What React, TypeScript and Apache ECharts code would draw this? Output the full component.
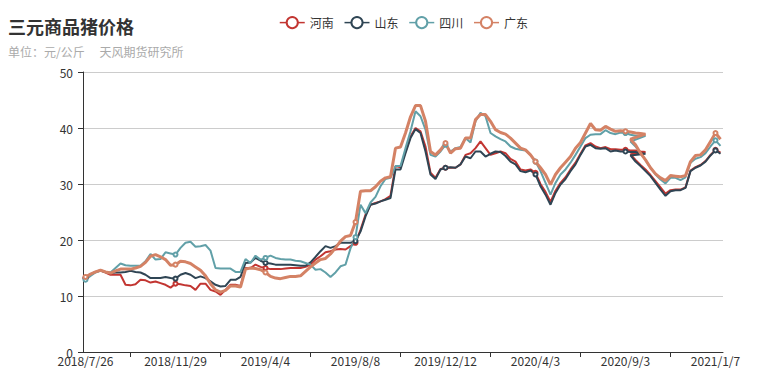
import React, { useEffect, useRef } from "react";
import * as echarts from "echarts";

// weekly report dates (x categories)
const dates = [
  "2018/7/26", "2018/8/2", "2018/8/9", "2018/8/16", "2018/8/23", "2018/8/30", "2018/9/6", "2018/9/13", "2018/9/20", "2018/9/27",
  "2018/10/4", "2018/10/11", "2018/10/18", "2018/10/25", "2018/11/1", "2018/11/8", "2018/11/15", "2018/11/22", "2018/11/29", "2018/12/6",
  "2018/12/13", "2018/12/20", "2018/12/27", "2019/1/3", "2019/1/10", "2019/1/17", "2019/1/24", "2019/1/31", "2019/2/7", "2019/2/14",
  "2019/2/21", "2019/2/28", "2019/3/7", "2019/3/14", "2019/3/21", "2019/3/28", "2019/4/4", "2019/4/11", "2019/4/18", "2019/4/25",
  "2019/5/2", "2019/5/9", "2019/5/16", "2019/5/23", "2019/5/30", "2019/6/6", "2019/6/13", "2019/6/20", "2019/6/27", "2019/7/4",
  "2019/7/11", "2019/7/18", "2019/7/25", "2019/8/1", "2019/8/8", "2019/8/15", "2019/8/22", "2019/8/29", "2019/9/5", "2019/9/12",
  "2019/9/19", "2019/9/26", "2019/10/3", "2019/10/10", "2019/10/17", "2019/10/24", "2019/10/31", "2019/11/7", "2019/11/14", "2019/11/21",
  "2019/11/28", "2019/12/5", "2019/12/12", "2019/12/19", "2019/12/26", "2020/1/2", "2020/1/9", "2020/1/16", "2020/1/23", "2020/1/30",
  "2020/2/6", "2020/2/13", "2020/2/20", "2020/2/27", "2020/3/5", "2020/3/12", "2020/3/19", "2020/3/20", "2020/3/26", "2020/3/27",
  "2020/4/3", "2020/4/10", "2020/4/17", "2020/4/24", "2020/5/8", "2020/5/15", "2020/5/22", "2020/5/29", "2020/6/5", "2020/6/12",
  "2020/6/19", "2020/7/3", "2020/7/10", "2020/7/17", "2020/7/31", "2020/8/7", "2020/8/21", "2020/8/27", "2020/9/3", "2020/9/10",
  "2020/9/17", "2020/9/24", "2020/10/1", "2020/10/8", "2020/10/15", "2020/10/22", "2020/10/29", "2020/11/5", "2020/11/12", "2020/11/19",
  "2020/11/26", "2020/12/3", "2020/12/10", "2020/12/17", "2020/12/24", "2020/12/31", "2021/1/7", "2021/1/14",
];

// first data batch runs up to this date, second batch restarts at this date
const firstBatchEnd = "2020/10/1";
const secondBatchStart = "2020/9/10";

const names = ["河南", "山东", "四川", "广东"];

// 河南
const henanFirst = [
  13.2, 13.8, 14.3, 14.6, 14.2, 13.8, 13.8, 13.8, 12.0, 11.9,
  12.1, 12.9, 12.8, 12.4, 12.6, 12.3, 12.0, 11.5, 12.2, 12.1,
  11.9, 11.8, 11.1, 12.2, 12.2, 11.1, 10.8, 10.2, 11.1, 12.0,
  12.0, 11.8, 15.0, 15.0, 15.6, 15.2, 15.0, 14.8, 14.8, 14.8,
  14.9, 15.0, 15.0, 15.0, 15.2, 15.6, 16.5, 17.1, 17.8, 18.0,
  18.3, 18.4, 18.3, 18.9, 19.5, 21.8, 24.5, 26.3, 26.6, 26.9,
  27.3, 27.9, 33.2, 33.0, 35.8, 38.5, 40.0, 39.4, 36.7, 32.0,
  31.1, 32.7, 32.9, 32.9, 32.9, 33.5, 35.2, 35.5, 36.4, 37.6,
  36.4, 35.2, 35.5, 35.8, 35.5, 34.5, 34.0, 32.6, 32.4, 32.6,
  32.0, 30.0, 28.6, 26.8, 28.8, 30.2, 31.2, 32.6, 33.8, 35.4,
  36.9, 37.3, 36.7, 36.4, 36.6, 36.2, 36.2, 36.1, 36.1, 36.0,
  36.0, 35.8, 35.7,
];
const henanSecond = [35.3, 34.3, 33.4, 32.6, 31.6, 30.5, 29.4, 28.3, 28.9, 29.0, 29.0, 29.4, 32.4, 33.0, 33.4, 34.1, 35.2, 36.1, 35.6];

// 山东
const shandongFirst = [
  13.2, 13.8, 14.3, 14.5, 14.3, 14.1, 14.2, 14.2, 14.3, 14.5,
  14.3, 14.2, 13.8, 13.2, 13.2, 13.2, 13.4, 13.2, 13.1, 13.8,
  14.1, 13.8, 13.2, 13.5, 13.2, 12.6, 12.0, 11.7, 11.8, 12.9,
  12.9, 13.4, 15.9, 16.0, 16.8, 16.3, 15.9, 15.8, 15.6, 15.6,
  15.6, 15.6, 15.5, 15.4, 15.4, 16.0, 17.0, 18.0, 18.9, 18.6,
  18.9, 19.5, 19.5, 19.5, 19.8, 21.5, 24.2, 26.3, 26.5, 26.9,
  27.2, 27.5, 32.6, 32.6, 35.5, 38.2, 39.8, 39.1, 35.8, 31.7,
  30.9, 32.6, 32.9, 33.0, 32.9, 33.5, 34.9, 34.6, 35.8, 35.8,
  34.9, 35.4, 35.8, 35.7, 35.0, 34.0, 33.5, 32.3, 32.1, 32.4,
  31.7, 29.6, 28.1, 26.3, 28.4, 29.9, 30.9, 32.3, 33.5, 35.2,
  36.7, 37.0, 36.4, 36.3, 36.4, 35.8, 36.0, 35.8, 35.8, 35.7,
  35.7, 35.5, 35.4,
];
const shandongSecond = [35.1, 34.0, 33.2, 32.3, 31.4, 30.2, 29.0, 27.9, 28.7, 28.9, 28.9, 29.3, 32.3, 32.9, 33.3, 34.0, 35.1, 36.0, 35.4];

// 四川
const sichuanFirst = [
  12.9, 13.6, 14.2, 14.6, 14.3, 14.2, 15.0, 15.8, 15.5, 15.4,
  15.4, 15.4, 16.2, 17.5, 16.5, 16.6, 17.8, 17.6, 17.4, 18.6,
  19.5, 19.7, 18.8, 18.9, 19.1, 18.1, 15.0, 14.9, 14.9, 14.9,
  14.3, 14.3, 16.6, 15.9, 17.2, 16.5, 16.8, 17.2, 16.8, 16.6,
  16.5, 16.5, 16.3, 16.2, 15.9, 15.6, 14.7, 14.8, 14.2, 13.4,
  14.2, 15.3, 15.6, 18.5, 20.5, 26.3, 24.8, 26.7, 27.7, 29.6,
  30.9, 31.1, 33.2, 33.2, 36.4, 39.4, 43.0, 42.1, 39.7, 35.2,
  34.9, 35.8, 37.0, 35.8, 36.4, 36.6, 38.2, 37.4, 41.2, 42.7,
  42.1, 39.1, 38.5, 38.0, 37.6, 36.7, 36.3, 36.1, 36.0, 35.2,
  34.0, 32.3, 30.2, 28.1, 30.2, 31.7, 32.6, 33.8, 35.2, 36.7,
  38.2, 38.8, 38.9, 38.9, 39.6, 39.1, 38.9, 39.2, 39.1, 38.8,
  38.6, 38.6, 38.6,
];
const sichuanSecond = [37.6, 36.7, 35.5, 34.3, 32.9, 31.7, 30.8, 30.1, 31.1, 31.1, 30.7, 31.2, 33.8, 34.5, 34.8, 35.5, 36.7, 37.8, 36.8];

// 广东
const guangdongFirst = [
  13.4, 13.9, 14.3, 14.6, 14.3, 14.1, 14.5, 14.8, 14.8, 14.8,
  15.0, 15.3, 16.0, 17.1, 17.4, 17.0, 16.5, 15.5, 15.6, 16.2,
  16.1, 15.8, 15.2, 14.6, 13.6, 12.2, 11.1, 10.7, 11.0, 11.8,
  11.8, 11.6, 14.8, 15.0, 14.9, 14.7, 14.2, 13.5, 13.2, 13.1,
  13.3, 13.5, 13.5, 13.6, 14.4, 15.2, 15.9, 16.5, 16.7, 17.5,
  18.6, 19.8, 20.6, 20.8, 23.2, 28.7, 28.8, 28.8, 29.5, 30.5,
  31.1, 31.3, 36.4, 36.6, 39.1, 42.0, 44.0, 44.0, 41.2, 35.8,
  35.2, 36.1, 37.3, 35.5, 36.3, 36.4, 38.2, 38.2, 41.5, 42.4,
  42.4, 41.2, 39.7, 39.2, 38.9, 38.2, 37.3, 36.4, 36.1, 35.2,
  34.0, 32.9, 31.7, 29.9, 31.7, 32.9, 33.9, 34.9, 36.4, 37.4,
  39.1, 40.8, 39.7, 39.6, 40.3, 39.8, 39.4, 39.5, 39.4, 39.3,
  39.1, 39.0, 38.9,
];
const guangdongSecond = [38.0, 37.0, 35.5, 34.3, 32.9, 31.8, 31.1, 30.6, 31.5, 31.4, 31.3, 31.5, 34.0, 35.1, 35.2, 36.1, 37.6, 39.1, 38.0];

const colors = ["#c23531", "#2f4554", "#61a0a8", "#d48265"];
const lineWidths = [2, 2, 2, 3];

export default function App() {
  const ref = useRef<HTMLDivElement>(null);
  useEffect(() => {
    if (!ref.current) return;
    const chart = echarts.init(ref.current, null, { renderer: "svg" });
    const endIdx = dates.indexOf(firstBatchEnd);
    const startIdx = dates.indexOf(secondBatchStart);
    const build = (first: number[], second: number[]) => [
      ...dates.slice(0, endIdx + 1).map((d, i) => [d, first[i]]),
      ...dates.slice(startIdx).map((d, i) => [d, second[i]]),
    ];
    const pairs = [
      [henanFirst, henanSecond],
      [shandongFirst, shandongSecond],
      [sichuanFirst, sichuanSecond],
      [guangdongFirst, guangdongSecond],
    ];
    const font = "'Microsoft YaHei', 'Noto Sans CJK SC', sans-serif";
    chart.setOption({
      animation: false,
      color: colors,
      textStyle: { fontFamily: font },
      title: {
        text: "三元商品猪价格",
        subtext: "单位：元/公斤\u3000 天风期货研究所",
        left: 3,
        top: 12,
        itemGap: 11,
        textStyle: { fontSize: 18, fontWeight: "bold", color: "#333", fontFamily: font },
        subtextStyle: { fontSize: 12, color: "#aaa", fontFamily: font },
      },
      legend: {
        data: names,
        left: 274,
        top: 11,
        itemWidth: 25,
        itemHeight: 14,
        itemGap: 10,
        lineStyle: { width: 1.5 },
        textStyle: { fontSize: 12, color: "#333", fontFamily: font },
      },
      grid: { left: 83, right: 39, top: 72, bottom: 32 },
      xAxis: {
        type: "category",
        data: dates,
        boundaryGap: true,
        axisLine: { show: true, lineStyle: { color: "#333" } },
        axisTick: {
          show: true,
          alignWithLabel: true,
          interval: (i: number) => i % 18 === 9,
          lineStyle: { color: "#333" },
        },
        axisLabel: { interval: 17, color: "#333", fontSize: 12, margin: 2, fontFamily: font },
        splitLine: { show: false },
      },
      yAxis: {
        type: "value",
        min: 0,
        max: 50,
        interval: 10,
        axisLine: { show: true, lineStyle: { color: "#333" } },
        axisTick: { show: true, lineStyle: { color: "#333" } },
        axisLabel: { color: "#333", fontSize: 12, margin: 10, fontFamily: font },
        splitLine: { show: true, lineStyle: { color: "#ccc" } },
      },
      series: names.map((name, k) => ({
        name,
        type: "line",
        symbol: "emptyCircle",
        symbolSize: 4,
        showAllSymbol: "auto",
        lineStyle: { width: lineWidths[k] },
        data: build(pairs[k][0], pairs[k][1]),
      })),
    });
    return () => chart.dispose();
  }, []);
  return (
    <div
      ref={ref}
      style={{ position: "absolute", left: 0, top: 0, width: 762, height: 384 }}
    />
  );
}
